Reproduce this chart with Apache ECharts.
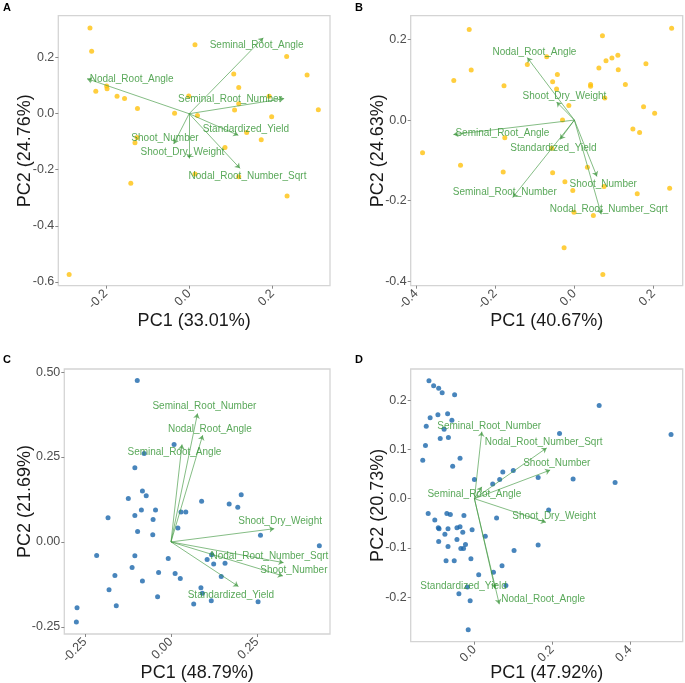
<!DOCTYPE html>
<html><head><meta charset="utf-8">
<script src="https://cdn.jsdelivr.net/npm/echarts@6/dist/echarts.min.js"></script>
<style>html,body{margin:0;padding:0;background:#fff}#c{width:685px;height:683px}</style>
</head><body><div id="c"></div>
<script>
const varNames = ["Seminal_Root_Angle","Nodal_Root_Angle","Seminal_Root_Number","Standardized_Yield","Shoot_Number","Shoot_Dry_Weight","Nodal_Root_Number_Sqrt"];

// Panel A
const pointsA = [[-0.238,0.306],[-0.234,0.223],[0.014,0.246],[0.234,0.204],[0.283,0.138],[0.107,0.142],[0.119,0.094],[-0.198,0.099],[-0.197,0.089],[-0.224,0.080],[-0.173,0.062],[-0.155,0.054],[-0.124,0.019],[-0.035,0.002],[-0.001,0.063],[0.020,-0.006],[0.119,0.036],[0.109,0.013],[0.192,0.062],[0.198,-0.011],[0.310,0.014],[0.138,-0.067],[0.173,-0.093],[-0.130,-0.104],[-0.125,-0.085],[0.086,-0.121],[0.014,-0.215],[0.119,-0.225],[-0.140,-0.248],[0.235,-0.294],[-0.288,-0.574]];
const loadingsA = [[0.178,0.271],[-0.245,0.125],[0.228,0.054],[0.118,-0.077],[-0.037,-0.108],[0.000,-0.160],[0.122,-0.195]];
const labelPosA = [[0.162,0.243],[-0.138,0.124],[0.098,0.051],[0.136,-0.054],[-0.058,-0.086],[-0.016,-0.139],[0.140,-0.225]];

// Panel B
const pointsB = [[-0.266,0.225],[0.246,0.228],[0.071,0.209],[-0.261,0.124],[-0.305,0.098],[-0.178,0.085],[-0.119,0.138],[-0.070,0.157],[-0.043,0.113],[-0.055,0.095],[-0.045,0.077],[0.041,0.088],[0.041,0.084],[0.062,0.129],[0.080,0.147],[0.095,0.154],[0.110,0.161],[0.111,0.125],[0.129,0.088],[0.181,0.140],[0.077,0.055],[-0.014,0.036],[-0.030,0.000],[0.175,0.033],[0.203,0.017],[0.148,-0.022],[0.165,-0.031],[-0.176,-0.044],[-0.384,-0.081],[-0.288,-0.112],[-0.180,-0.129],[-0.055,-0.131],[0.033,-0.117],[-0.057,-0.070],[-0.024,-0.153],[-0.004,-0.175],[0.075,-0.165],[0.159,-0.183],[0.241,-0.169],[-0.001,-0.229],[0.048,-0.237],[-0.026,-0.317],[0.072,-0.383]];
const loadingsB = [[-0.306,-0.036],[-0.119,0.155],[-0.156,-0.192],[-0.036,-0.048],[0.057,-0.140],[-0.045,0.045],[0.068,-0.234]];
const labelPosB = [[-0.182,-0.032],[-0.101,0.169],[-0.176,-0.179],[-0.053,-0.069],[0.073,-0.160],[-0.025,0.059],[0.087,-0.221]];

// Panel C
const pointsC = [[-0.098,0.475],[0.009,0.287],[-0.078,0.260],[-0.105,0.218],[0.204,0.139],[0.169,0.112],[0.194,0.102],[0.089,0.120],[-0.083,0.150],[-0.072,0.136],[-0.124,0.128],[-0.086,0.094],[-0.045,0.094],[-0.105,0.078],[-0.052,0.066],[0.029,0.088],[0.043,0.088],[-0.183,0.071],[0.020,0.041],[-0.097,0.031],[-0.053,0.021],[0.260,0.020],[0.431,-0.011],[-0.216,-0.040],[-0.105,-0.041],[-0.008,-0.049],[0.105,-0.052],[0.118,-0.038],[0.124,-0.065],[0.157,-0.063],[-0.113,-0.075],[-0.036,-0.090],[-0.163,-0.099],[0.012,-0.093],[0.027,-0.108],[0.146,-0.102],[-0.083,-0.115],[-0.180,-0.141],[0.087,-0.135],[-0.039,-0.161],[0.091,-0.151],[-0.159,-0.188],[0.066,-0.183],[0.117,-0.173],[0.253,-0.176],[-0.273,-0.194],[-0.275,-0.236]];
const loadingsC = [[0.032,0.287],[0.092,0.314],[0.077,0.378],[0.196,-0.131],[0.325,-0.100],[0.300,0.039],[0.327,-0.061]];
const labelPosC = [[0.010,0.265],[0.113,0.333],[0.097,0.399],[0.174,-0.157],[0.357,-0.084],[0.317,0.060],[0.286,-0.043]];

// Panel D
const pointsD = [[-0.117,0.239],[-0.105,0.229],[-0.092,0.224],[-0.083,0.215],[-0.051,0.211],[-0.114,0.164],[-0.094,0.170],[-0.069,0.172],[-0.058,0.159],[-0.124,0.147],[-0.078,0.141],[-0.088,0.122],[-0.067,0.124],[-0.126,0.108],[-0.133,0.078],[-0.037,0.082],[-0.056,0.066],[0.321,0.189],[0.219,0.132],[0.506,0.130],[0.362,0.033],[0.254,0.040],[0.164,0.043],[0.100,0.057],[0.073,0.054],[0.065,0.039],[0.047,0.030],[0.000,0.039],[0.191,-0.023],[0.057,-0.039],[-0.119,-0.030],[-0.071,-0.030],[-0.062,-0.032],[-0.027,-0.034],[-0.102,-0.043],[-0.093,-0.059],[-0.091,-0.061],[-0.068,-0.061],[-0.045,-0.059],[-0.037,-0.057],[-0.076,-0.072],[-0.030,-0.068],[-0.006,-0.063],[-0.092,-0.087],[-0.068,-0.097],[-0.045,-0.083],[-0.023,-0.093],[-0.035,-0.101],[-0.028,-0.101],[0.028,-0.076],[0.102,-0.105],[0.164,-0.094],[-0.009,-0.122],[-0.073,-0.126],[-0.052,-0.126],[0.071,-0.136],[0.049,-0.149],[0.011,-0.154],[0.081,-0.176],[-0.018,-0.179],[-0.040,-0.193],[-0.011,-0.207],[-0.016,-0.266]];
const loadingsD = [[0.019,0.024],[0.064,-0.214],[0.019,0.136],[0.053,-0.182],[0.195,0.058],[0.184,-0.048],[0.186,0.103]];
const labelPosD = [[0.000,0.009],[0.177,-0.204],[0.038,0.146],[-0.028,-0.178],[0.212,0.071],[0.205,-0.035],[0.178,0.114]];

// Axis titles & ticks
const panelLetters = ["A","B","C","D"];
const xTitles = ["PC1 (33.01%)","PC1 (40.67%)","PC1 (48.79%)","PC1 (47.92%)"];
const yTitles = ["PC2 (24.76%)","PC2 (24.63%)","PC2 (21.69%)","PC2 (20.73%)"];
const xTicksA = [-0.2,0,0.2], yTicksA = [-0.6,-0.4,-0.2,0,0.2];
const xTicksB = [-0.4,-0.2,0,0.2], yTicksB = [-0.4,-0.2,0,0.2];
const xTicksC = [-0.25,0,0.25], yTicksC = [-0.25,0,0.25,0.5];
const xTicksD = [0,0.2,0.4], yTicksD = [-0.2,-0.1,0,0.1,0.2];

const FONT = "Liberation Sans, Arial, sans-serif";
const GREEN_TXT = "#2f922f", GREEN_LINE = "rgba(60,150,60,0.7)";
const YELLOW = "#ffc20e", BLUE = "#1a66ab";

const panels = [
  {grid:{left:58.3,top:15.7,width:271.7,height:270}, x:[-0.314,0.338], y:[-0.614,0.35], xt:xTicksA, yt:yTicksA, dec:1, pts:pointsA, ld:loadingsA, lp:labelPosA, col:YELLOW, xg:26, yg:24},
  {grid:{left:410.7,top:15.7,width:272,height:270}, x:[-0.414,0.274], y:[-0.411,0.259], xt:xTicksB, yt:yTicksB, dec:1, pts:pointsB, ld:loadingsB, lp:labelPosB, col:YELLOW, xg:26, yg:24},
  {grid:{left:64.3,top:369,width:265.7,height:265}, x:[-0.310,0.462], y:[-0.271,0.509], xt:xTicksC, yt:yTicksC, dec:2, pts:pointsC, ld:loadingsC, lp:labelPosC, col:BLUE, xg:30, yg:30},
  {grid:{left:410.7,top:369,width:272,height:272.7}, x:[-0.164,0.536], y:[-0.290,0.263], xt:xTicksD, yt:yTicksD, dec:1, pts:pointsD, ld:loadingsD, lp:labelPosD, col:BLUE, xg:22, yg:24}
];

const grids=[], xAxes=[], yAxes=[], series=[], graphics=[];
panels.forEach((p,i)=>{
  grids.push(Object.assign({show:true, borderColor:"#d4d4d4", borderWidth:1.3, backgroundColor:"#fff"}, p.grid));
  const fmt = v => v.toFixed(p.dec);
  xAxes.push({type:"value", gridIndex:i, min:p.x[0], max:p.x[1], splitLine:{show:false},
    axisLine:{show:false, onZero:false}, axisTick:{show:true, length:3, lineStyle:{color:"#888"}, customValues:p.xt},
    axisLabel:{customValues:p.xt, formatter:fmt, rotate:45, color:"#4d4d4d", fontSize:12.5, fontFamily:FONT, margin:6},
    name:xTitles[i], nameLocation:"middle", nameGap:p.xg, nameMoveOverlap:false,
    nameTextStyle:{fontSize:18, color:"#1a1a1a", fontFamily:FONT}});
  yAxes.push({type:"value", gridIndex:i, min:p.y[0], max:p.y[1], splitLine:{show:false},
    axisLine:{show:false, onZero:false}, axisTick:{show:true, length:3, lineStyle:{color:"#888"}, customValues:p.yt},
    axisLabel:{customValues:p.yt, formatter:fmt, color:"#4d4d4d", fontSize:12.5, fontFamily:FONT, margin:4},
    name:yTitles[i], nameLocation:"middle", nameGap:p.yg, nameMoveOverlap:false,
    nameTextStyle:{fontSize:18, color:"#1a1a1a", fontFamily:FONT}});
  series.push({type:"scatter", xAxisIndex:i, yAxisIndex:i, data:p.pts, symbolSize:5, itemStyle:{color:p.col}, silent:true, z:2});
  series.push({type:"lines", coordinateSystem:"cartesian2d", xAxisIndex:i, yAxisIndex:i, silent:true, z:3,
    symbol:["none","arrow"], symbolSize:[0,5],
    lineStyle:{color:GREEN_LINE, width:0.9, opacity:1},
    data:p.ld.map(e=>({coords:[[0,0],e]}))});
  series.push({type:"scatter", xAxisIndex:i, yAxisIndex:i, silent:true, z:4, symbolSize:1, itemStyle:{color:"rgba(0,0,0,0)"},
    label:{show:true, position:"inside", formatter:d=>d.name, color:GREEN_TXT, fontSize:10, fontFamily:FONT},
    data:p.lp.map((e,k)=>({name:varNames[k], value:e}))});
});
const letterPos = [[3,2],[355,2],[3,354],[355,354]];
letterPos.forEach((q,i)=>graphics.push({type:"text", left:q[0], top:q[1], style:{text:panelLetters[i], font:"bold 11px "+FONT, fill:"#000"}}));

const chart = echarts.init(document.getElementById("c"), null, {renderer:"canvas"});
chart.setOption({animation:false, backgroundColor:"#fff", grid:grids, xAxis:xAxes, yAxis:yAxes, series:series, graphic:graphics});
</script></body></html>
